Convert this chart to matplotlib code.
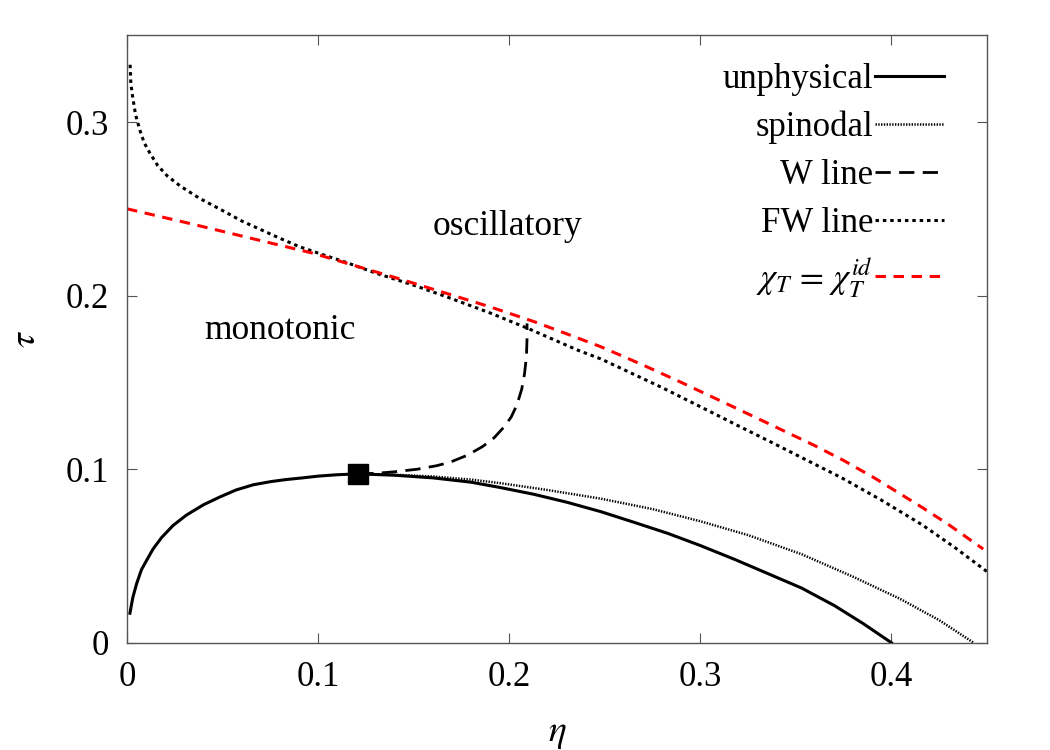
import matplotlib
matplotlib.use("Agg")
import matplotlib.pyplot as plt

plt.rcParams['font.family'] = ['Liberation Serif', 'DejaVu Serif']
plt.rcParams['mathtext.fontset'] = 'stix'
plt.rcParams['lines.scale_dashes'] = False

# unphysical region boundary (solid)
eta_unph = [0.0015, 0.003, 0.005, 0.0075, 0.010, 0.0136, 0.018, 0.024, 0.031, 0.040,
            0.0486, 0.057, 0.066, 0.075, 0.083, 0.092, 0.100, 0.110, 0.121,
            0.140, 0.160, 0.180, 0.195, 0.213, 0.230, 0.248, 0.265, 0.283, 0.300,
            0.318, 0.335, 0.353, 0.370, 0.385, 0.400]
tau_unph = [0.017, 0.026, 0.034, 0.042, 0.047, 0.054, 0.0605, 0.0675, 0.0735, 0.0795,
            0.084, 0.088, 0.091, 0.0928, 0.094, 0.095, 0.096, 0.0968, 0.0973,
            0.0965, 0.095, 0.0925, 0.0895, 0.0855, 0.081, 0.0755, 0.0695, 0.063, 0.056,
            0.048, 0.040, 0.0315, 0.0215, 0.0112, 0.0]

# spinodal
eta_spin = [0.121, 0.140, 0.160, 0.180, 0.195, 0.220, 0.248, 0.275, 0.300, 0.325,
            0.353, 0.380, 0.405, 0.425, 0.443]
tau_spin = [0.0973, 0.0968, 0.0958, 0.094, 0.092, 0.088, 0.083, 0.077, 0.070, 0.062,
            0.051, 0.038, 0.025, 0.013, 0.0]

# W line
eta_w = [0.121, 0.130, 0.140, 0.152, 0.162, 0.169, 0.178, 0.186, 0.192, 0.197,
         0.201, 0.204, 0.2065, 0.208, 0.209, 0.2093, 0.2093]
tau_w = [0.0973, 0.0976, 0.0985, 0.100, 0.102, 0.104, 0.108, 0.113, 0.118, 0.124,
         0.130, 0.137, 0.146, 0.155, 0.165, 0.175, 0.184]

# Fisher-Widom line
eta_fw = [0.0016, 0.002, 0.003, 0.0045, 0.0068, 0.009, 0.012, 0.016, 0.021, 0.028,
          0.038, 0.050, 0.060, 0.070, 0.080, 0.0906, 0.100, 0.115, 0.130, 0.150,
          0.168, 0.190, 0.210, 0.236, 0.248, 0.280, 0.300, 0.318, 0.339, 0.356,
          0.374, 0.395, 0.416, 0.433, 0.450]
tau_fw = [0.333, 0.322, 0.314, 0.304, 0.295, 0.288, 0.282, 0.275, 0.269, 0.263,
          0.256, 0.249, 0.243, 0.238, 0.233, 0.228, 0.2245, 0.219, 0.213, 0.206,
          0.199, 0.190, 0.181, 0.1685, 0.1635, 0.147, 0.136, 0.126, 0.1145, 0.105,
          0.095, 0.082, 0.068, 0.055, 0.041]

# chi_T = chi_T^id
eta_chi = [0.0, 0.033, 0.065, 0.097, 0.120, 0.143, 0.168, 0.190, 0.213, 0.230,
           0.248, 0.270, 0.290, 0.318, 0.340, 0.360, 0.375, 0.391, 0.405, 0.416,
           0.430, 0.448]
tau_chi = [0.25, 0.2415, 0.233, 0.2245, 0.217, 0.2095, 0.201, 0.1935, 0.185, 0.178,
           0.1705, 0.160, 0.150, 0.1355, 0.124, 0.1135, 0.105, 0.095, 0.0855, 0.078,
           0.068, 0.054]

# critical point
eta_c = [0.1206]
tau_c = [0.0973]

fig = plt.figure(figsize=(10.5, 7.5), dpi=100)
ax = fig.add_axes([0.121, 0.143, 0.819, 0.810])

ax.plot(eta_unph, tau_unph, color='black', lw=2.2, label='unphysical')
ax.plot(eta_spin, tau_spin, color='black', lw=1.8, dashes=(1.0, 1.0), label='spinodal')
ax.plot(eta_w, tau_w, color='black', lw=2.0, dashes=(11, 6), label='W line')
ax.plot(eta_fw, tau_fw, color='black', lw=2.2, dashes=(2.5, 2.8), label='FW line')
ax.plot(eta_chi, tau_chi, color='#ff0000', lw=2.2, dashes=(7.5, 5.5),
        label=r'$\chi_T\,=\,\chi_T^{id}$')
ax.plot(eta_c, tau_c, 's', color='black', markersize=14)

ax.text(0.199, 0.240, 'oscillatory', fontsize=25.5, ha='center', va='center')
ax.text(0.080, 0.180, 'monotonic', fontsize=25.5, ha='center', va='center')

ax.set_xlim(0, 0.45)
ax.set_ylim(0, 0.35)
ax.set_xticks([0, 0.1, 0.2, 0.3, 0.4])
ax.set_xticklabels(['0', '0.1', '0.2', '0.3', '0.4'])
ax.set_yticks([0, 0.1, 0.2, 0.3])
ax.set_yticklabels(['0', '0.1', '0.2', '0.3'])
ax.tick_params(direction='in', top=True, right=True, length=7, width=0.8,
               color='#555555', labelsize=25)
ax.tick_params(axis='x', pad=13)
ax.tick_params(axis='y', pad=13)
for s in ax.spines.values():
    s.set_color('#555555')
    s.set_linewidth(1.0)

ax.set_xlabel(r'$\eta$', fontsize=27, labelpad=16)
ax.set_ylabel(r'$\tau$', fontsize=27, labelpad=16)

ax.legend(loc='upper right', bbox_to_anchor=(0.929, 0.958),
          bbox_transform=fig.transFigure, frameon=False,
          markerfirst=False, fontsize=25, handlelength=2.0, handletextpad=0.05,
          labelspacing=0.43, borderpad=0.4)

fig.savefig('out.png', dpi=100)
